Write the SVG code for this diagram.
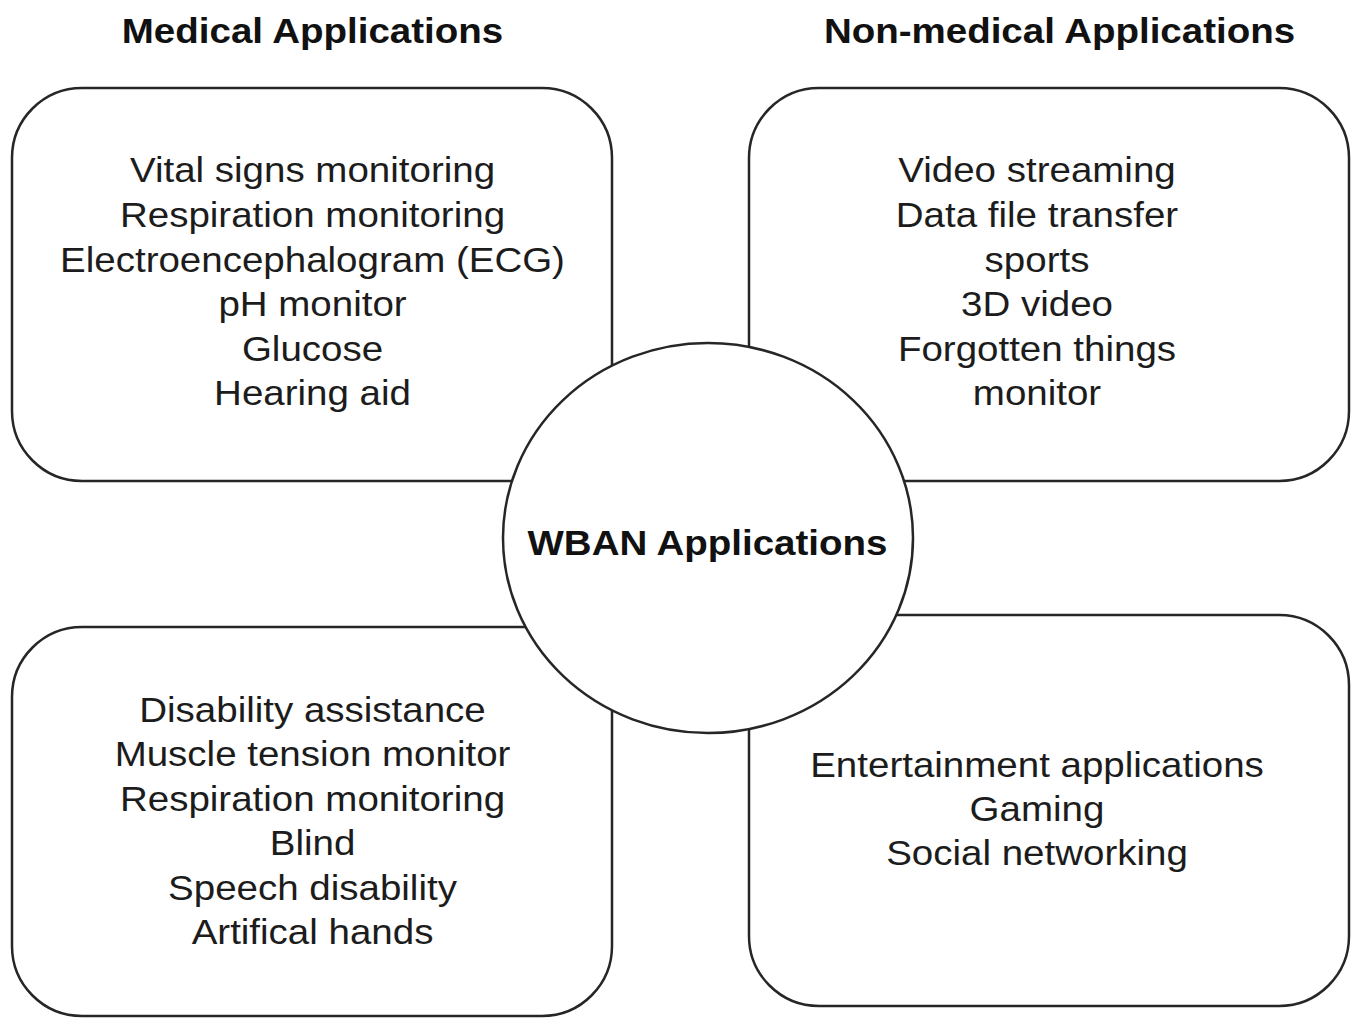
<svg xmlns="http://www.w3.org/2000/svg" width="1353" height="1021" viewBox="0 0 1353 1021">
<style>
.box{fill:#fff;stroke:#262626;stroke-width:2.5}
.t{font-family:"Liberation Sans",Arial,sans-serif;font-size:35px;fill:#1c1c1c;text-anchor:middle}
.b{font-family:"Liberation Sans",Arial,sans-serif;font-size:35px;font-weight:bold;fill:#111;text-anchor:middle}
</style>
<rect width="1353" height="1021" fill="#fff"/>
<g id="title-medical" transform="translate(312.5,0) scale(1.1,1)"><text class="b" x="0" y="43">Medical Applications</text></g>
<g id="title-nonmedical" transform="translate(1059.5,0) scale(1.1,1)"><text class="b" x="0" y="43">Non-medical Applications</text></g>
<g id="connectors"></g>
<g id="medical-top">
<rect class="box" x="12" y="88" width="600" height="393" rx="70" ry="70"/>
<g transform="translate(312.5,0) scale(1.1,1)">
<text class="t" x="0" y="182">Vital signs monitoring</text>
<text class="t" x="0" y="227">Respiration monitoring</text>
<text class="t" x="0" y="272">Electroencephalogram (ECG)</text>
<text class="t" x="0" y="316">pH monitor</text>
<text class="t" x="0" y="361">Glucose</text>
<text class="t" x="0" y="405">Hearing aid</text>
</g>
</g>
<g id="nonmedical-top">
<rect class="box" x="749" y="88" width="600" height="393" rx="70" ry="70"/>
<g transform="translate(1037,0) scale(1.1,1)">
<text class="t" x="0" y="182">Video streaming</text>
<text class="t" x="0" y="227">Data file transfer</text>
<text class="t" x="0" y="272">sports</text>
<text class="t" x="0" y="316">3D video</text>
<text class="t" x="0" y="361">Forgotten things</text>
<text class="t" x="0" y="405">monitor</text>
</g>
</g>
<g id="medical-bottom">
<rect class="box" x="12" y="627" width="600" height="389" rx="70" ry="70"/>
<g transform="translate(312.5,0) scale(1.1,1)">
<text class="t" x="0" y="722">Disability assistance</text>
<text class="t" x="0" y="766">Muscle tension monitor</text>
<text class="t" x="0" y="811">Respiration monitoring</text>
<text class="t" x="0" y="855">Blind</text>
<text class="t" x="0" y="900">Speech disability</text>
<text class="t" x="0" y="944">Artifical hands</text>
</g>
</g>
<g id="nonmedical-bottom">
<rect class="box" x="749" y="615" width="600" height="391" rx="70" ry="70"/>
<g transform="translate(1037,0) scale(1.1,1)">
<text class="t" x="0" y="777">Entertainment applications</text>
<text class="t" x="0" y="821">Gaming</text>
<text class="t" x="0" y="865">Social networking</text>
</g>
</g>
<g id="wban">
<ellipse class="box" cx="708" cy="538" rx="205" ry="195"/>
<g transform="translate(707.5,0) scale(1.1,1)"><text class="b" x="0" y="555">WBAN Applications</text></g>
</g>
</svg>
